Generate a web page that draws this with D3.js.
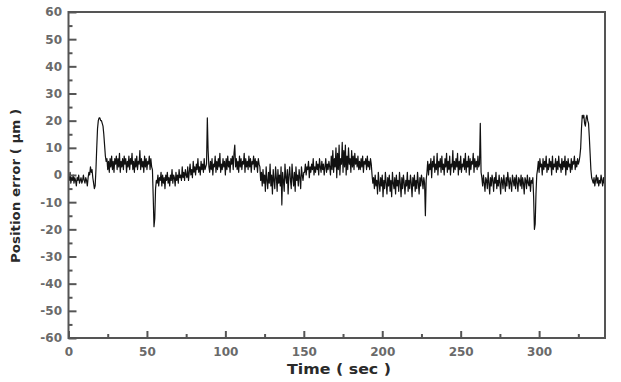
<!DOCTYPE html>
<head>
    <meta charset="utf-8">
    <title>Position error</title>
    <style>
        body { margin: 0; background: #fff; }
        .tick text { font-family: "DejaVu Sans", sans-serif; font-weight: bold; font-size: 12px; fill: #6a6a6a; }
        .axis-title { font-family: "DejaVu Sans", sans-serif; font-weight: bold; fill: #2a2a2a; }
    </style>
</head>
<body>
<svg width="621" height="382"></svg>
<script src="https://d3js.org/d3.v7.min.js"></script>
<script>

    //tick values
    var xTicks = [0, 50, 100, 150, 200, 250, 300];
    var xMinor = [25, 75, 125, 175, 225, 275, 325];
    var yTicks = [-60, -50, -40, -30, -20, -10, 0, 10, 20, 30, 40, 50, 60];
    var yMinor = [-55, -45, -35, -25, -15, -5, 5, 15, 25, 35, 45, 55];

    //position error samples, one array per stretch of the record: [start sec, end sec, values]
    var s0  = [0, -2, 1, -3, -1, -2, 0, -3, -1, -2, -4, -1, -2, 0, -3, -2, -1, -3, -2, 0, -2, -3, -1, -2, -4, -1, 1, 0, 3, 1, 2, -1, -3, -5];
    var s1  = [-4, 2, 10, 17, 20, 21, 21, 20, 20, 19, 18, 15, 11, 7, 5, 6];
    var s2  = [2, 5, 1, 6, 3, 7, 2, 5, 1, 6, 4, 7, 2, 6, 3, 8, 1, 5, 3, 6, 2, 7, 4, 6, 1, 5, 3, 7, 2, 6, 4, 8, 2, 5, 1, 6, 3, 7, 2, 5, 4, 9, 2, 6, 3, 5, 1, 7, 3, 6, 2, 5, 4, 7, 2, 6, 3];
    var s3  = [2, -8, -19, -16, -5, -2];
    var s4  = [-3, 0, -4, -1, -2, 1, -4, 0, -3, -1, -5, 0, -2, 1, -3, -1, -4, 0, -2, 2, -3, 0, -1, -4, 1, -2, 0, -3, 2, -1, 0, -2, 3, -1, 1, -2, 2, 0, -1, 3, -2, 1, 4, 0, 2, -1, 5, 1, 3, 0, 4, 2, 6, 1, 3, 0, 5, 2, 4, 1, 6, 2, 3];
    var s5  = [4, 21, 9, 3];
    var s6  = [1, 5, 2, 6, 0, 4, 3, 7, 1, 5, 2, 6, 3, 8, 1, 4, 2, 6, 3, 5, 0, 6, 2, 7, 3, 5, 1, 6, 4, 7, 2, 8, 11, 3, 6, 2, 5, 1, 7, 3, 6, 2, 5, 4, 8, 1, 6, 3, 5, 2, 7, 3, 6, 1, 5, 4, 7, 2, 6, 3, 5, 1, 6, 4, 3];
    var s7  = [-2, 1, -4, 2, -3, 0, -6, 3, -2, -5, 1, -3, 4, -4, 0, -7, 2, -2, -5, 3, -1, -6, 2, -3, 0, -4, 3, -11, 1, -2, -6, 4, -1, -3, 2, -7, 0, 3, -2, -5, 4, -1, -4, 1, -6, 3, -2, 0, -4, 2, -1, -5, 3, 0, -2, 1];
    var s8a = [1, 4, 0, 3, 2, 5, -1, 3, 1, 4, 2, 6, 0, 3, 1, 5, 2, 4, 0, 6, 3, 1, 5, 2, 4, 0, 3, 6, 1, 4, 2, 5, 3];
    var s8b = [0, 7, 2, 9, 1, 6, 3, 10, -1, 8, 2, 11, 0, 6, 4, 12, 1, 9, 3, 11, 0, 7, 2, 10, 4, 6, 1, 9, 3, 7, 2, 8, 4, 6, 3, 7, 2];
    var s8c = [5, 2, 6, 3, 7, 1, 5, 4, 6, 2, 7, 3, 5, 2, 6, 4];
    var s9  = [0, -3, -1, -5, 0, -4, -2, -7, 1, -3, -6, -1, -4, 0, -8, -2, -5, 1, -3, -7, -1, -4, 0, -6, -2, -8, 1, -3, -5, -1, -7, 0, -4, -2, -6, 1, -3, -8, -1, -5, 0, -3, -7, -2, -4, 1, -6, -2, -5, 0, -3, -8, -1, -4, 0, -6, -2, -5, 1, -3, -7, -1, -4, 0, -2, -5, -1, -3];
    var s10 = [-15, -2];
    var s11 = [1, 5, 0, 4, 2, 6, -1, 5, 3, 7, 1, 4, 2, 8, 0, 5, 3, 6, 1, 7, 2, 4, 0, 6, 3, 8, 1, 5, 2, 7, 0, 4, 3, 9, 1, 5, 2, 6, 3, 8, 0, 5, 2, 7, 1, 4, 3, 6, 2, 8, 1, 5, 3, 7, 0, 6, 2, 5, 4, 8, 1, 6, 3, 5, 2, 7, 3, 4];
    var s12 = [19, 1];
    var s13 = [-1, -4, 0, -3, -6, -1, -2, -5, 1, -3, -7, -1, -4, 0, -2, -6, -1, -3, 1, -5, -2, -4, 0, -3, -7, -1, -2, -5, 0, -3, -6, -1, -4, 1, -2, -5, -1, -3, -6, 0, -2, -4, -1, -5, 0, -3, -6, -1, -2, -4, 0, -5, -1, -3, -7, -1, -2, -5, 0, -3, -4, -1, -6, -2, -3, -1];
    var s14 = [-8, -20, -18, -7, 0];
    var s15 = [2, 5, 1, 6, 3, 4, 0, 6, 2, 5, 3, 7, 1, 4, 2, 6, 3, 5, 0, 7, 2, 4, 3, 6, 1, 5, 2, 7, 3, 4, 1, 6, 2, 5, 3, 7, 0, 5, 2, 6, 3, 4, 1, 6, 2, 5, 4, 7, 2, 5, 3, 6, 4, 5, 7];
    var s16 = [10, 17, 22, 21, 22, 19, 18, 21, 22, 20, 19, 14, 8, 2, -1];
    var s17 = [-2, -3, -1, -4, -2, 0, -3, -1, -4, -2, -3, 0, -2, -4, -1, -3, -2];

    var segments = [
        [0, 16.5, s0], [17, 24.5, s1], [25, 53, s2], [53.5, 56, s3],
        [56.5, 87.5, s4], [88, 89.5, s5], [90, 122, s6], [122.5, 150, s7],
        [150.5, 166.5, s8a], [167, 185, s8b], [185.5, 193, s8c], [193.5, 227, s9],
        [227.5, 228, s10], [228.5, 262, s11], [262.5, 263, s12], [263.5, 296, s13],
        [296.5, 298.5, s14], [299, 326, s15], [326.5, 333.5, s16], [334, 342, s17]
    ];

    //spread each stretch's samples over its own time span
    var data = [];
    segments.forEach(function(seg) {
        var n = seg[2].length;
        seg[2].forEach(function(v, i) {
            data.push({ t: seg[0] + (n > 1 ? i * (seg[1] - seg[0]) / (n - 1) : 0), v: v });
        });
    });

    //svg setting
    var svg = d3.select("svg");
    var mLeft = 68.5, mRight = 605, mTop = 12, mBottom = 338;
    var axisColor = "#555";
    var plain = d => String(d); // keep the short hyphen as in the original labels

    var x = d3.scaleLinear().domain([0, 342]).range([mLeft, mRight]);
    var y = d3.scaleLinear().domain([-60, 60]).range([mBottom, mTop]);

    //trace
    svg.append("path")
        .datum(data)
        .attr("fill", "none")
        .attr("stroke", "#111")
        .attr("stroke-width", 1.2)
        .attr("stroke-linejoin", "round")
        .attr("d", d3.line().x(d => x(d.t)).y(d => y(d.v)));

    //frame
    svg.append("rect")
        .attr("x", mLeft).attr("y", mTop)
        .attr("width", mRight - mLeft).attr("height", mBottom - mTop)
        .attr("fill", "none")
        .attr("stroke", axisColor)
        .attr("stroke-width", 2);

    //bottom axis, ticks point inward
    var gx = svg.append("g")
        .attr("transform", "translate(0," + mBottom + ")")
        .call(d3.axisBottom(x).tickValues(xTicks).tickSize(-7).tickPadding(9.5).tickFormat(plain));
    gx.select(".domain").remove();
    gx.selectAll(".tick line").attr("stroke", axisColor).attr("stroke-width", 2);

    svg.append("g")
        .attr("transform", "translate(0," + mBottom + ")")
        .call(d3.axisBottom(x).tickValues(xMinor).tickSize(-4).tickFormat(""))
        .call(g => g.select(".domain").remove())
        .selectAll(".tick line").attr("stroke", axisColor).attr("stroke-width", 2);

    //left axis, ticks point inward
    var gy = svg.append("g")
        .attr("transform", "translate(" + mLeft + ",0)")
        .call(d3.axisLeft(y).tickValues(yTicks).tickSize(-8).tickPadding(6.5).tickFormat(plain));
    gy.select(".domain").remove();
    gy.selectAll(".tick line").attr("stroke", axisColor).attr("stroke-width", 2);

    svg.append("g")
        .attr("transform", "translate(" + mLeft + ",0)")
        .call(d3.axisLeft(y).tickValues(yMinor).tickSize(-4).tickFormat(""))
        .call(g => g.select(".domain").remove())
        .selectAll(".tick line").attr("stroke", axisColor).attr("stroke-width", 2);

    //axis titles
    svg.append("text")
        .attr("class", "axis-title")
        .attr("x", 339)
        .attr("y", 374)
        .attr("text-anchor", "middle")
        .attr("font-size", "14px")
        .attr("textLength", 104)
        .attr("lengthAdjust", "spacingAndGlyphs")
        .text("Time ( sec )");

    svg.append("text")
        .attr("class", "axis-title")
        .attr("transform", "translate(20,186) rotate(-90)")
        .attr("text-anchor", "middle")
        .attr("font-size", "13px")
        .attr("textLength", 154)
        .attr("lengthAdjust", "spacingAndGlyphs")
        .text("Position error ( μm )");

</script>
</body>
